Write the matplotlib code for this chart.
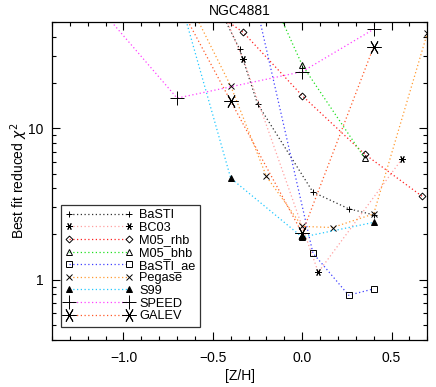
import matplotlib
matplotlib.use("Agg")
import matplotlib.pyplot as plt
from matplotlib.ticker import LogLocator, NullFormatter, FixedLocator, MultipleLocator

plt.rcParams['font.family'] = ['Liberation Sans', 'DejaVu Sans']
plt.rcParams['mathtext.fontset'] = 'dejavusans'

# [Z/H] grids and best-fit reduced chi^2
basti_z = [-0.66, -0.35, -0.25, 0.06, 0.26, 0.40]
basti_chi = [180, 33.2, 14.5, 3.79, 2.94, 2.68]

bc03_z = [-0.64, -0.33, 0.09, 0.56]
bc03_chi = [200, 28.5, 1.12, 6.3]

m05rhb_z = [-1.35, -0.33, 0.0, 0.35, 0.67]
m05rhb_chi = [300, 42.9, 16.4, 6.74, 3.56]

m05bhb_z = [-0.33, 0.0, 0.35]
m05bhb_chi = [190, 26.1, 6.34]

bastiae_z = [-0.25, 0.06, 0.26, 0.40]
bastiae_chi = [60, 1.50, 0.79, 0.87]

pegase_z = [-0.7, -0.4, -0.2, 0.0, 0.17, 0.4, 0.7]
pegase_chi = [97, 19.0, 4.8, 2.25, 2.21, 2.72, 42.3]

s99_z = [-0.7, -0.4, 0.0, 0.4]
s99_chi = [83, 4.68, 1.91, 2.39]

speed_z = [-1.3, -0.7, 0.0, 0.4]
speed_chi = [105, 15.8, 23.6, 45]

galev_z = [-0.7, -0.4, 0.0, 0.4]
galev_chi = [69, 15.1, 2.03, 34.5]

series = [
    ('BaSTI', basti_z, basti_chi, '#303030', '+', 5, 'none'),
    ('BC03', bc03_z, bc03_chi, '#ffa0a0', (6, 2, 90), 5, 'none'),
    ('M05_rhb', m05rhb_z, m05rhb_chi, '#ff2020', 'D', 3.5, 'none'),
    ('M05_bhb', m05bhb_z, m05bhb_chi, '#20e020', '^', 4.5, 'none'),
    ('BaSTI_ae', bastiae_z, bastiae_chi, '#4040ff', 's', 5, 'none'),
    ('Pegase', pegase_z, pegase_chi, '#ff9a30', 'x', 4.5, 'none'),
    ('S99', s99_z, s99_chi, '#20c8ff', '^', 4.5, 'black'),
    ('SPEED', speed_z, speed_chi, '#ff40ff', '+', 10, 'none'),
    ('GALEV', galev_z, galev_chi, '#ff5a28', (6, 2, 90), 10, 'none'),
]

fig = plt.figure(figsize=(4.36, 3.87), dpi=100)
ax = fig.add_axes([0.1193, 0.1214, 0.8607, 0.821])

for name, z, chi, col, mk, ms, fc in series:
    ax.plot(z, chi, color=col, linestyle=(0, (1, 2)), linewidth=0.9,
            marker=mk, markersize=ms, markeredgecolor='black',
            markerfacecolor=fc, markeredgewidth=0.7, label=name)

ax.set_yscale('log')
ax.set_xlim(-1.4, 0.7)
ax.set_ylim(0.4, 50)

ax.xaxis.set_major_locator(FixedLocator([-1.0, -0.5, 0.0, 0.5]))
ax.xaxis.set_minor_locator(MultipleLocator(0.1))
ax.set_xticklabels(['\u22121.0', '\u22120.5', '0.0', '0.5'])
ax.yaxis.set_major_locator(FixedLocator([1, 10]))
ax.set_yticklabels(['1', '10'])
ax.yaxis.set_minor_locator(LogLocator(base=10, subs=range(2, 10)))
ax.yaxis.set_minor_formatter(NullFormatter())

ax.tick_params(which='both', direction='in', top=True, right=True,
               labelsize=10, width=0.8)
ax.tick_params(axis='x', pad=8)
ax.tick_params(axis='y', pad=6)
ax.tick_params(which='major', length=6)
ax.tick_params(which='minor', length=3)
for sp in ax.spines.values():
    sp.set_linewidth(0.9)

ax.set_title('NGC4881', fontsize=10, pad=5)
ax.set_xlabel('[Z/H]', fontsize=10, labelpad=3)
ax.set_ylabel(r'Best fit reduced $\chi^2$', fontsize=10, labelpad=-1)

leg = ax.legend(loc='lower left', bbox_to_anchor=(0.023, 0.042),
                borderaxespad=0, numpoints=2, handlelength=5.3,
                fontsize=9.2, labelspacing=0.05, frameon=True,
                fancybox=False, borderpad=0.35, handletextpad=0.5)
leg.get_frame().set_edgecolor('black')
leg.get_frame().set_linewidth(0.9)

fig.savefig('out.png', dpi=100)
